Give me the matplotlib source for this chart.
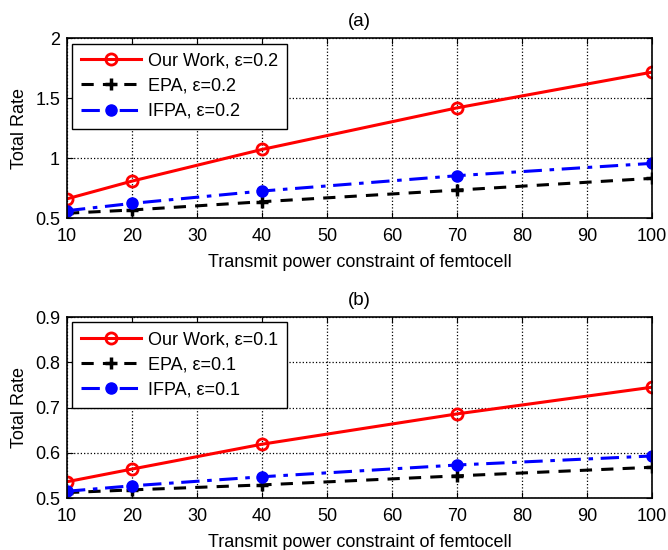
import matplotlib
matplotlib.use("Agg")
import matplotlib.pyplot as plt

plt.rcParams['font.family'] = ['Liberation Sans', 'DejaVu Sans']

x = [10, 20, 40, 70, 100]

# panel (a), eps = 0.2
ours_a = [0.66, 0.808, 1.072, 1.419, 1.717]
epa_a = [0.54, 0.567, 0.636, 0.733, 0.831]
ifpa_a = [0.561, 0.622, 0.725, 0.853, 0.956]

# panel (b), eps = 0.1
ours_b = [0.536, 0.564, 0.619, 0.686, 0.745]
epa_b = [0.512, 0.518, 0.529, 0.549, 0.568]
ifpa_b = [0.515, 0.527, 0.547, 0.573, 0.593]

xticks = [10, 20, 30, 40, 50, 60, 70, 80, 90, 100]
yticks_a = [0.5, 1, 1.5, 2]
yticks_b = [0.5, 0.6, 0.7, 0.8, 0.9]

fig = plt.figure(figsize=(6.68, 5.5), dpi=100)
ax1 = fig.add_axes([0.1003, 0.6036, 0.876, 0.327])
ax2 = fig.add_axes([0.1003, 0.0945, 0.876, 0.329])

fs = 13


def draw(ax, ours, epa, ifpa, eps, yticks, ylim, title):
    ax.plot(x, ours, '-', color='red', lw=2.2, marker='o', ms=8, mfc='none', mew=2,
            label='Our Work, ε=' + eps)
    ax.plot(x, epa, '--', color='black', lw=2.2, marker='+', ms=9, mew=2.5,
            dashes=(4, 3), label='EPA, ε=' + eps)
    ax.plot(x, ifpa, '-.', color='blue', lw=2.2, marker='o', ms=8,
            dashes=(6, 2.5, 1.5, 2.5), label='IFPA, ε=' + eps)
    ax.set_xlim(10, 100)
    ax.set_ylim(*ylim)
    ax.set_xticks(xticks)
    ax.set_yticks(yticks)
    ax.set_yticklabels([('%g' % v) for v in yticks])
    ax.grid(True, ls=':', color='black', lw=0.9)
    ax.tick_params(direction='in', top=True, right=True, labelsize=fs, length=4)
    ax.tick_params(axis='x', pad=7)
    ax.tick_params(axis='y', pad=5)
    for s in ax.spines.values():
        s.set_linewidth(1.2)
    ax.set_xlabel('Transmit power constraint of femtocell', fontsize=fs, labelpad=7)
    ax.set_ylabel('Total Rate', fontsize=fs, labelpad=5)
    ax.set_title(title, fontsize=13.5, pad=9)
    leg = ax.legend(loc='upper left', fontsize=fs, handlelength=3.3, fancybox=False,
                    framealpha=1, edgecolor='black', borderaxespad=0.3,
                    borderpad=0.5, labelspacing=0.45, handletextpad=0.4)
    leg.get_frame().set_linewidth(1.0)


draw(ax1, ours_a, epa_a, ifpa_a, '0.2', yticks_a, (0.5, 2), '(a)')
draw(ax2, ours_b, epa_b, ifpa_b, '0.1', yticks_b, (0.5, 0.9), '(b)')

fig.savefig('out.png', dpi=100)
